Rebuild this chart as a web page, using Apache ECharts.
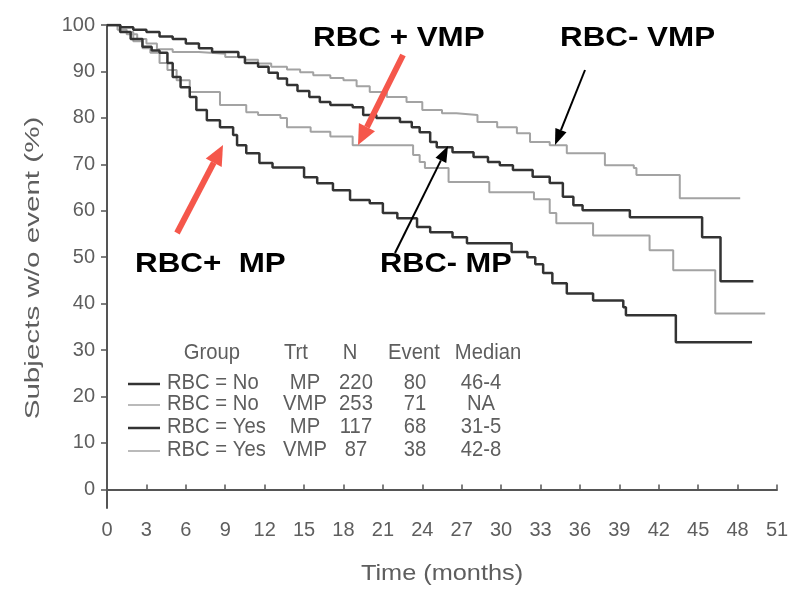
<!DOCTYPE html>
<html>
<head>
<meta charset="utf-8">
<script src="https://cdn.jsdelivr.net/npm/echarts@6/dist/echarts.min.js"></script>
<style>
  html, body { margin: 0; padding: 0; background: #fff; }
  #main { width: 796px; height: 591px; }
</style>
</head>
<body>
<div id="main"></div>
<script>
// survival steps (months, % without event)
var noMpTime = [0, 1, 2, 3, 4, 5, 6, 7, 8, 10, 10.5, 11.5, 12.3, 13, 13.7, 14.5, 15.4, 16.2, 17, 18.7, 19.5, 20.5, 22.3, 23.2, 23.8, 24.6, 25.1, 26.3, 27.9, 29, 29.9, 30.9, 32.4, 33.7, 34.7, 35.5, 36.2, 39.8, 45.3, 46.7, 49.2];
var noMpSurv = [100, 99.5, 99, 98.5, 97.5, 97, 96, 95, 94.2, 93.1, 91.8, 91, 89.7, 88.5, 87.1, 85.8, 84.5, 83.4, 82.8, 82.3, 80.6, 80, 79.1, 78, 76.9, 74.8, 73.7, 72.6, 71.6, 70.5, 69.8, 68.8, 67.3, 66, 63, 61.2, 60.1, 58.6, 54.3, 44.8, 44.8];

var noVmpTime = [0, 0.8, 1.5, 2.3, 3, 3.8, 5, 7, 9, 10.5, 11.5, 12.5, 13.7, 14.7, 15.7, 17, 18, 19, 20, 21.3, 22.8, 24, 25.5, 26.6, 28.2, 29.7, 31.2, 32.2, 33.7, 35, 37.9, 40.1, 40.3, 43.6, 48.2];
var noVmpSurv = [100, 99, 98, 97, 96, 94.8, 94.2, 93.8, 93.1, 92.5, 91.7, 91, 90.4, 89.8, 89.2, 88.6, 88.1, 86.8, 85.6, 84.5, 83.4, 81.7, 81, 80.6, 79.1, 78, 76.7, 74.8, 74.1, 72.4, 69.8, 69.2, 67.7, 62.7, 62.7];

var yesMpTime = [0, 1, 1.8, 2.7, 3.4, 4, 4.6, 5, 5.6, 6.3, 6.8, 7.6, 8.6, 9.6, 9.9, 10.6, 11.6, 12.6, 15, 16, 17.2, 18.5, 20, 21, 22.1, 23.6, 24.6, 26.3, 27.4, 30.8, 32, 32.6, 33.2, 33.9, 35, 37, 39.3, 39.5, 43.3, 49.1];
var yesMpSurv = [100, 98.5, 97, 95.3, 94.5, 94, 91.8, 88.8, 86.6, 84.5, 81.7, 79.5, 78, 76.3, 74.1, 72.4, 70.3, 69.3, 67.2, 65.9, 64.4, 62.3, 61.6, 59.5, 58.4, 56.5, 55.4, 54.3, 53, 51.1, 50, 48.5, 46.6, 44.4, 42.2, 40.7, 39.2, 37.5, 31.7, 31.7];

var yesVmpTime = [0, 1, 2, 2.7, 3.3, 4, 4.6, 5.3, 6.3, 8.6, 10.6, 11.5, 13.2, 13.7, 15.5, 17, 18.7, 23.3, 23.8, 24.2, 26, 29.1, 32.5, 33.7, 34.2, 37, 41.3, 43.1, 46.3, 50.1];
var yesVmpSurv = [100, 98.5, 96.5, 95, 94, 91.8, 90.3, 88.1, 85.6, 82.8, 81.2, 80.6, 80, 78, 77, 76, 74.1, 72, 70.5, 69.2, 66.2, 64, 62.5, 59.5, 57.3, 54.7, 51.5, 47.2, 37.9, 37.9];

var yTicks = [0, 10, 20, 30, 40, 50, 60, 70, 80, 90, 100];

// table printed inside the plot
var tableHeader = ['Group', 'Trt', 'N', 'Event', 'Median'];
var groupLabels = ['RBC = No', 'RBC = No', 'RBC = Yes', 'RBC = Yes'];
var trtLabels = ['MP', 'VMP', 'MP', 'VMP'];
var nLabels = ['220', '253', '117', '87'];
var eventLabels = ['80', '71', '68', '38'];
var medianLabels = ['46-4', 'NA', '31-5', '42-8'];

var BLACK = '#333333';
var GRAY = '#a3a3a3';
var RED = '#f5574b';
var TXT = '#5e5e5e';
var FONT = '"Liberation Sans", Arial, Helvetica, sans-serif';

function pairs(t, v) {
  return t.map(function (x, i) { return [x, v[i]]; });
}

// 箭头: 一条线加一个三角形
function arrow(x1, y1, x2, y2, color, w, hl, hw) {
  var a = Math.atan2(y2 - y1, x2 - x1);
  var bx = x2 - hl * Math.cos(a), by = y2 - hl * Math.sin(a);
  var nx = -Math.sin(a), ny = Math.cos(a);
  return [
    { type: 'line', z: 20, shape: { x1: x1, y1: y1, x2: bx, y2: by }, style: { stroke: color, lineWidth: w } },
    { type: 'polygon', z: 20, shape: { points: [[x2, y2], [bx + nx * hw / 2, by + ny * hw / 2], [bx - nx * hw / 2, by - ny * hw / 2]] }, style: { fill: color } }
  ];
}

function txt(x, y, s, opt) {
  opt = opt || {};
  return {
    type: 'text', x: x, y: y, z: 20,
    rotation: opt.rotation || 0,
    scaleX: opt.scaleX || 1,
    style: {
      text: s,
      fill: opt.color || TXT,
      font: (opt.weight || 'normal') + ' ' + (opt.size || 20) + 'px ' + FONT,
      align: opt.align || 'center', textAlign: opt.align || 'center',
      verticalAlign: 'middle', textVerticalAlign: 'middle'
    }
  };
}

var chart = echarts.init(document.getElementById('main'), null, { renderer: 'canvas' });

var graphics = [];

// 轴标题
graphics.push(txt(442, 574, 'Time (months)', { size: 22, scaleX: 1.15 }));
graphics.push(txt(33, 268, 'Subjects w/o event (%)', { size: 20, scaleX: 1.48, rotation: Math.PI / 2 }));

// 表格
var headerX = [212, 296, 350, 414, 488];
var colX = [167, 305, 356, 415, 481];
var rowY = [383, 404, 427, 450];
var rowColors = [BLACK, GRAY, BLACK, GRAY];
tableHeader.forEach(function (h, i) {
  graphics.push(txt(headerX[i], 353, h, { size: 22, scaleX: 0.92 }));
});
rowY.forEach(function (y, r) {
  graphics.push({ type: 'line', z: 20, shape: { x1: 128, y1: y + 1, x2: 160, y2: y + 1 },
    style: { stroke: rowColors[r], lineWidth: r % 2 ? 1.5 : 2.5 } });
  graphics.push(txt(colX[0], y, groupLabels[r], { size: 22, scaleX: 0.92, align: 'left' }));
  graphics.push(txt(colX[1], y, trtLabels[r], { size: 22, scaleX: 0.92 }));
  graphics.push(txt(colX[2], y, nLabels[r], { size: 22, scaleX: 0.92 }));
  graphics.push(txt(colX[3], y, eventLabels[r], { size: 22, scaleX: 0.92 }));
  graphics.push(txt(colX[4], y, medianLabels[r], { size: 22, scaleX: 0.92 }));
});

// 注释文字和箭头
graphics.push(txt(313, 38, 'RBC + VMP', { size: 28, weight: 'bold', color: '#000', align: 'left', scaleX: 1.12 }));
graphics.push(txt(560, 38, 'RBC- VMP', { size: 28, weight: 'bold', color: '#000', align: 'left', scaleX: 1.12 }));
graphics.push(txt(135, 264, 'RBC+  MP', { size: 28, weight: 'bold', color: '#000', align: 'left', scaleX: 1.12 }));
graphics.push(txt(380, 264, 'RBC- MP', { size: 28, weight: 'bold', color: '#000', align: 'left', scaleX: 1.1 }));
graphics = graphics
  .concat(arrow(177, 233, 223, 145, RED, 6, 20, 18))
  .concat(arrow(403, 55, 358, 145, RED, 6, 20, 18))
  .concat(arrow(585, 70, 555, 145, '#000', 2, 16, 12))
  .concat(arrow(395, 253, 448, 146, '#000', 2, 16, 12));

function km(name, t, v, color, width) {
  return {
    name: name,
    type: 'line',
    step: 'end',
    symbol: 'none',
    data: pairs(t, v),
    lineStyle: { color: color, width: width },
    itemStyle: { color: color }
  };
}

var option = {
  animation: false,
  backgroundColor: '#fff',
  grid: { left: 107, right: 19, top: 25, bottom: 83 },
  xAxis: {
    type: 'value',
    min: 0,
    max: 51,
    interval: 3,
    axisLine: { lineStyle: { color: '#555', width: 2 } },
    axisTick: { inside: true, length: 5, lineStyle: { color: '#555', width: 1.5 } },
    axisLabel: { color: TXT, fontSize: 20, fontFamily: FONT, margin: 12 },
    splitLine: { show: false }
  },
  yAxis: {
    type: 'value',
    min: -4,
    max: 100,
    axisLine: { show: true, lineStyle: { color: '#555', width: 2 } },
    axisTick: { show: true, length: 6, customValues: yTicks, lineStyle: { color: '#555', width: 1.5 } },
    axisLabel: { customValues: yTicks, color: TXT, fontSize: 20, fontFamily: FONT, margin: 12 },
    splitLine: { show: false }
  },
  series: [
    km('RBC = No VMP', noVmpTime, noVmpSurv, GRAY, 2),
    km('RBC = Yes VMP', yesVmpTime, yesVmpSurv, GRAY, 2),
    km('RBC = No MP', noMpTime, noMpSurv, BLACK, 2.5),
    km('RBC = Yes MP', yesMpTime, yesMpSurv, BLACK, 2.5)
  ],
  graphic: graphics
};

chart.setOption(option);
</script>
</body>
</html>
